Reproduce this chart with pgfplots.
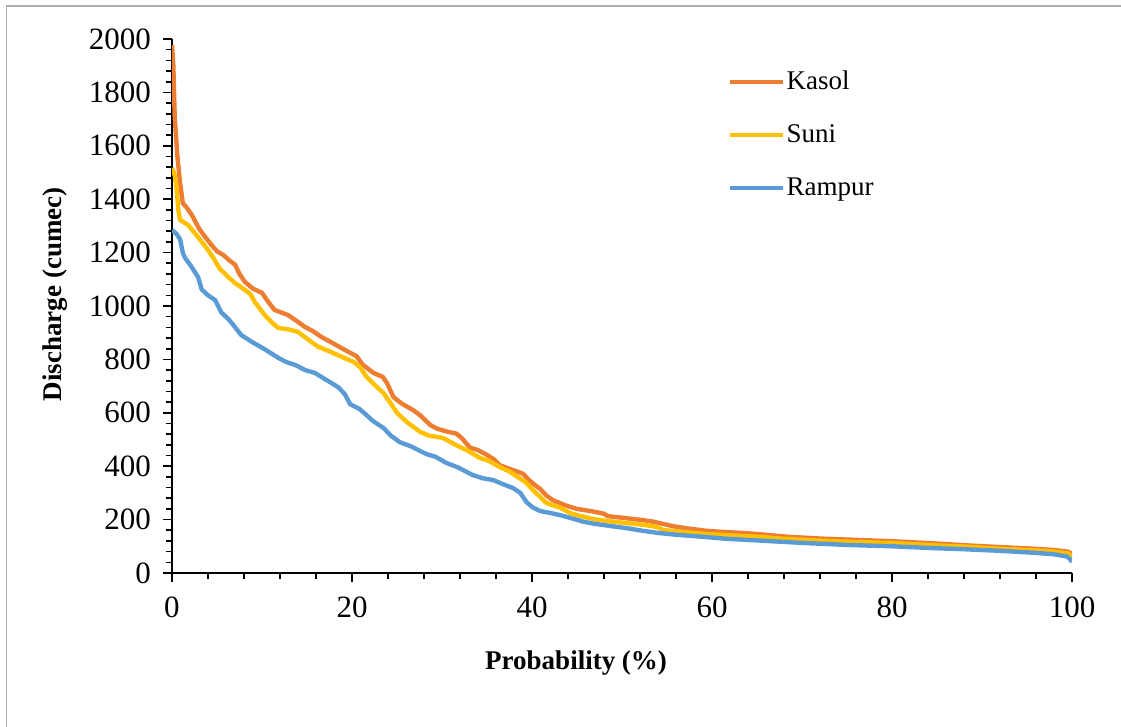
\documentclass[border=0pt]{standalone}
\usepackage{fontspec}
\setmainfont{Liberation Serif}
\usepackage{pgfplots}
\pgfplotsset{compat=1.18}
\definecolor{kasol}{RGB}{237,125,49}
\definecolor{suni}{RGB}{255,192,0}
\definecolor{rampur}{RGB}{91,155,213}
\definecolor{frame}{RGB}{175,175,175}

\begin{document}
\begin{tikzpicture}
\useasboundingbox (0,0) rectangle (560.5pt,363.5pt);
\draw[frame, line width=0.6pt] (3.3pt,0pt) -- (3.3pt,360.5pt) -- (560.5pt,360.5pt);
\begin{axis}[
  scale only axis, width=450pt, height=267pt,
  at={(86pt,77pt)}, anchor=south west,
  xmin=0, xmax=100, ymin=0, ymax=2000,
  axis lines=left, axis line style={-, line width=1pt},
  xtick={0,20,...,100}, ytick={0,200,...,2000},
  minor x tick num=4, minor y tick num=4,
  tick align=outside, major tick length=4.5pt, minor tick length=3pt,
  tick style={black, line width=0.8pt},
  scaled y ticks=false,
  /pgf/number format/assume math mode=true,
  /pgf/number format/1000 sep={},
  ticklabel style={font=\fontsize{15.5}{18}\selectfont},
  yticklabel style={xshift=-2.5pt},
  xticklabel style={yshift=-4pt},
  xlabel={\textbf{Probability (\%)}}, ylabel={\textbf{Discharge (cumec)}},
  label style={font=\fontsize{13.5}{16}\selectfont},
  xlabel style={at={(axis description cs:0.449,-0.1685)}, anchor=center},
  ylabel style={at={(axis description cs:-0.13,0.522)}, anchor=center},
  legend style={at={(0.617,0.945)}, anchor=north west, draw=none, fill=none,
    font=\fontsize{13.5}{16}\selectfont, row sep=14pt, inner sep=0pt,
    nodes={inner sep=1pt}},
  legend cell align=left,
  legend image code/.code={\draw[#1, line width=2pt] (0pt,0pt) -- (26.5pt,0pt);},
  every axis plot/.append style={line width=2.2pt, line join=round},
]
\addplot[kasol] coordinates {(0,1977)(0.15,1900)(0.3,1710)(0.6,1560)(0.9,1460)(1.2,1385)(1.6,1370)(2.2,1341)(3.0,1290)(3.7,1258)(4.4,1228)(5.0,1205)(5.7,1191)(6.4,1170)(7.0,1155)(7.5,1120)(8.1,1090)(9.0,1065)(10.0,1049)(10.7,1015)(11.4,985)(12.9,966)(13.8,945)(14.8,921)(15.7,905)(16.6,884)(17.8,862)(18.7,845)(19.5,830)(20.5,812)(21.2,780)(22.4,749)(23.4,735)(23.9,711)(24.6,659)(25.5,635)(26.8,610)(27.6,590)(28.7,554)(29.5,540)(30.5,530)(31.6,522)(32.2,505)(33.1,470)(34.0,460)(35,442)(35.8,425)(36.4,404)(37.5,390)(39,372)(39.6,350)(40.3,330)(40.9,315)(41.6,290)(42.3,273)(43.1,262)(44,250)(45,240)(46.5,232)(48,222)(48.4,213)(50,207)(52.3,198)(53.5,192)(55.7,175)(57.5,166)(59.4,158)(61.6,153)(63.9,149)(66,143)(68.3,136)(72,129)(76,124)(80,119)(84.6,111)(88,104)(92,97)(95.7,91)(98,86)(99.5,80)(99.8,76)(100,68)};
\addlegendentry{Kasol}
\addplot[suni] coordinates {(0,1517)(0.3,1490)(0.5,1446)(0.7,1360)(0.9,1322)(1.8,1303)(2.9,1258)(4,1210)(4.6,1180)(5.3,1140)(6.2,1110)(7.0,1086)(8.1,1060)(8.7,1045)(9.2,1015)(10.3,966)(11.2,935)(11.8,918)(13,912)(14,903)(15.5,865)(16.2,848)(17.5,830)(18.9,809)(20.2,790)(20.9,771)(21.6,735)(22.5,705)(23.5,674)(24.2,640)(25,600)(26.1,565)(27.6,528)(28.5,515)(30.1,506)(31.5,480)(32.7,461)(34.2,431)(35.2,420)(36.4,397)(37.5,380)(38.3,362)(39.3,340)(40.1,311)(40.9,285)(41.6,262)(42.5,252)(43.1,245)(44.2,225)(45.3,214)(46.8,202)(48.5,194)(50.5,187)(52.5,180)(53.9,172)(54.6,161)(57,153)(59.4,146)(62,141)(65.3,135)(68,128)(72,121)(76,116)(80,112)(84.6,104)(88,99)(92,91)(95.7,85)(98,80)(99.5,74)(100,63)};
\addlegendentry{Suni}
\addplot[rampur] coordinates {(0,1284)(0.5,1270)(0.9,1250)(1.2,1200)(1.4,1183)(2.2,1145)(2.9,1108)(3.3,1062)(4.0,1040)(4.8,1022)(5.5,975)(6.3,950)(7.0,921)(7.7,891)(8.9,865)(10.3,838)(11.8,806)(12.7,790)(13.7,779)(14.8,760)(15.9,749)(16.8,730)(17.7,712)(18.5,695)(19.2,670)(19.8,632)(20.8,615)(21.6,592)(22.3,570)(23.5,543)(24.3,515)(25.3,490)(26.5,475)(28.3,445)(29.3,435)(30.5,412)(31.8,395)(33.4,367)(34.5,355)(35.7,348)(36.6,335)(37.9,318)(38.7,300)(39.4,265)(40.1,245)(40.9,232)(42,225)(43.1,217)(44.5,204)(45.7,192)(47,184)(48.7,176)(50.5,168)(52.3,158)(54,150)(56.1,143)(58.5,137)(61.6,128)(65,122)(69.8,113)(75,105)(80,100)(84.6,93)(88,89)(92,83)(95.7,76)(98,70)(99.4,62)(99.8,52)(100,41)};
\addlegendentry{Rampur}
\end{axis}
\end{tikzpicture}
\end{document}
